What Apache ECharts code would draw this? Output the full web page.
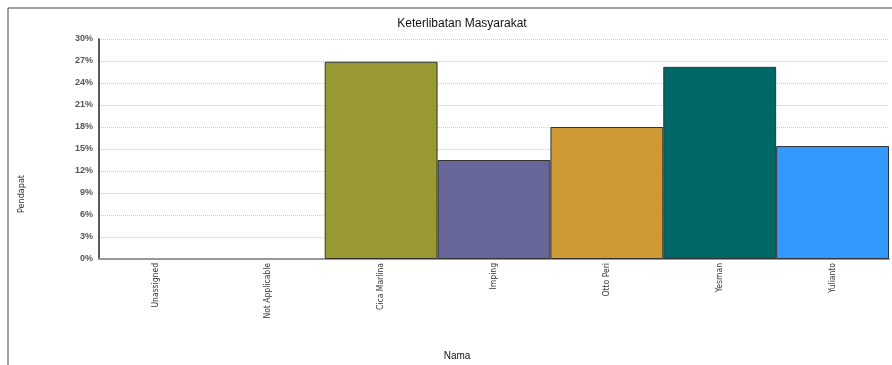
<!DOCTYPE html>
<html>
<head>
<meta charset="utf-8">
<script src="https://cdn.jsdelivr.net/npm/echarts@6/dist/echarts.min.js"></script>
<style>
html, body { margin: 0; padding: 0; background: #fff; }
#chart { width: 892px; height: 365px; }
</style>
</head>
<body>
<div id="chart"></div>
<script>
// data
var categories = ['Unassigned', 'Not Applicable', 'Cica Marlina', 'Imping', 'Otto Peri', 'Yesman', 'Yulianto'];
var values = [0, 0, 26.9, 13.5, 18.0, 26.2, 15.4];
var barColors = ['#999933', '#999933', '#999933', '#666699', '#cc9933', '#006666', '#3399ff'];

var narrow = '"DejaVu Sans Condensed", "Liberation Sans Narrow", "Liberation Sans", sans-serif';

var chart = echarts.init(document.getElementById('chart'));

var barData = values.map(function (v, i) {
    return {
        value: v === 0 ? '-' : v,
        itemStyle: { color: barColors[i] }
    };
});

var option = {
    animation: false,
    backgroundColor: '#fff',
    title: {
        text: 'Keterlibatan Masyarakat',
        left: 457,
        top: 13,
        textAlign: 'center',
        textStyle: { fontFamily: 'Liberation Sans', fontSize: 12, fontWeight: 'normal', color: '#111' }
    },
    grid: { left: 99, right: 3, top: 39, bottom: 106 },
    xAxis: {
        type: 'category',
        data: categories,
        axisLine: { lineStyle: { color: '#999', width: 2 } },
        axisTick: { show: false },
        axisLabel: {
            rotate: 90,
            interval: 0,
            margin: 4,
            fontFamily: narrow,
            fontSize: 8.5,
            color: '#333'
        }
    },
    yAxis: {
        type: 'value',
        min: 0,
        max: 30,
        interval: 3,
        axisLine: { show: true, lineStyle: { color: '#222', width: 1.5 } },
        axisTick: { show: false },
        axisLabel: {
            formatter: '{value}%',
            margin: 6,
            fontFamily: 'Liberation Sans',
            fontSize: 9,
            fontWeight: 'bold',
            color: '#555'
        },
        splitLine: { lineStyle: { color: '#ccc', type: 'dotted' } }
    },
    series: [{
        type: 'bar',
        data: barData,
        barCategoryGap: '0%',
        itemStyle: { borderColor: '#333', borderWidth: 1 }
    }],
    graphic: [
        {
            type: 'rect',
            shape: { x: 8, y: 8, width: 900, height: 380 },
            style: { fill: null, stroke: '#444', lineWidth: 1 },
            silent: true
        },
        {
            type: 'text',
            x: 22,
            y: 194,
            rotation: Math.PI / 2,
            style: { text: 'Pendapat', fontFamily: narrow, fontSize: 9, fill: '#333', align: 'center', verticalAlign: 'middle' }
        },
        {
            type: 'text',
            x: 457,
            y: 356,
            style: { text: 'Nama', fontFamily: 'Liberation Sans', fontSize: 10, fill: '#111', align: 'center', verticalAlign: 'middle' }
        }
    ]
};

chart.setOption(option);
</script>
</body>
</html>
